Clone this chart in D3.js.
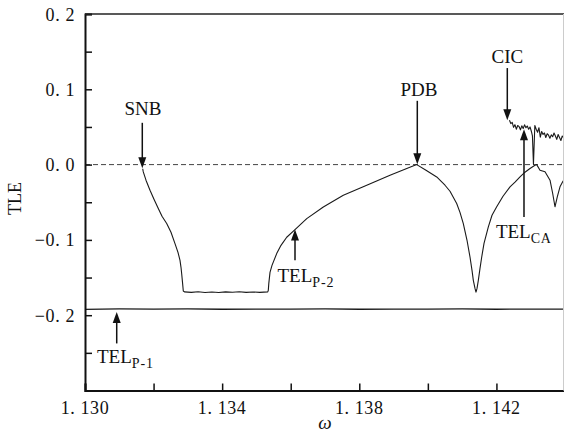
<!DOCTYPE html>
<html>
<head>
<meta charset="utf-8">
<script src="https://cdn.jsdelivr.net/npm/d3@7"></script>
<style>
  html, body { margin: 0; padding: 0; background: #fff; }
  svg { display: block; }
  text { font-family: "Liberation Serif", "Times New Roman", serif; fill: #111; }
</style>
</head>
<body>
<svg id="chart" width="564" height="443"></svg>
<script>
// ---------------- data ----------------
// Main Lyapunov-exponent branch: SNB descent
const snbOmega = [1.131683,1.131700,1.131779,1.131896,1.132012,1.132138,1.132246,1.132383,1.132508,1.132625,1.132712,1.132771,1.132800,1.132820,1.132844,1.132867];
const snbTLE   = [-0.0055,-0.0097,-0.0207,-0.0340,-0.0460,-0.0584,-0.0686,-0.0783,-0.0899,-0.1050,-0.1165,-0.1271,-0.1364,-0.1449,-0.1564,-0.1679];
// plateau
const plateauOmega = [1.1329,1.1331,1.1333,1.1335,1.1337,1.1339,1.1341,1.1343,1.1345,1.1347,1.1349,1.1351,1.13533];
const plateauTLE   = [-0.1690,-0.1697,-0.1689,-0.1698,-0.1691,-0.1699,-0.1690,-0.1696,-0.1688,-0.1697,-0.1692,-0.1697,-0.1690];
// TEL P-2 rising branch up to PDB
const p2Omega = [1.135346,1.135361,1.135396,1.135454,1.135591,1.135717,1.135883,1.136125,1.136467,1.136951,1.137534,1.138217,1.138896,1.139675];
const p2TLE   = [-0.1670,-0.1577,-0.1431,-0.1338,-0.1182,-0.1072,-0.0965,-0.0863,-0.0717,-0.0563,-0.0407,-0.0274,-0.0141,0.0000];
// after PDB
const postOmega = [1.139946,1.140258,1.140500,1.140646,1.140841,1.140937,1.141034,1.141142,1.141229,1.141288,1.141326,1.141375,1.141404,1.141434,1.141472,1.141521,1.141571,1.141638,1.141764,1.141871,1.142008,1.142192,1.142396,1.142542,1.142688,1.142833,1.142979,1.143125,1.143175,1.143271,1.143417,1.143563,1.143641,1.143708,1.143775,1.143854,1.143932,1.143970];
const postTLE   = [-0.0074,-0.0164,-0.0274,-0.0354,-0.0517,-0.0634,-0.0784,-0.1005,-0.1227,-0.1404,-0.1537,-0.1644,-0.1693,-0.1644,-0.1537,-0.1378,-0.1227,-0.1045,-0.0828,-0.0673,-0.0560,-0.0420,-0.0296,-0.0233,-0.0162,-0.0101,-0.0051,-0.0008,0.0000,-0.0074,-0.0096,-0.0207,-0.0384,-0.0560,-0.0428,-0.0295,-0.0229,-0.0202];
// chaotic attractor (CIC)
const chaosOmega = [1.14238,1.14242,1.14246,1.14250,1.14254,1.14258,1.14262,1.14266,1.14270,1.14274,1.14278,1.14282,1.14286,1.14290,1.14294,1.14298,1.14302,1.14305,1.14308,1.14312,1.14316,1.14320,1.14324,1.14328,1.14332,1.14336,1.14340,1.14344,1.14348,1.14352,1.14356,1.14360,1.14364,1.14368,1.14372,1.14376,1.14380,1.14384,1.14388,1.14392,1.14397];
const chaosTLE   = [0.0590,0.0545,0.0560,0.0495,0.0530,0.0470,0.0520,0.0505,0.0462,0.0515,0.0480,0.0528,0.0490,0.0512,0.0470,0.0500,0.0440,0.0380,0.0005,0.0520,0.0470,0.0430,0.0490,0.0365,0.0440,0.0400,0.0420,0.0360,0.0410,0.0390,0.0350,0.0395,0.0370,0.0420,0.0380,0.0335,0.0400,0.0360,0.0320,0.0380,0.0350];
// TEL P-1 (flat branch)
const p1Omega = [1.1300,1.1310,1.1320,1.1330,1.1340,1.1350,1.1360,1.1370,1.1380,1.1390,1.1400,1.1410,1.1420,1.1430,1.1440];
const p1TLE   = [-0.1922,-0.1916,-0.1920,-0.1917,-0.1921,-0.1918,-0.1920,-0.1916,-0.1921,-0.1918,-0.1920,-0.1917,-0.1921,-0.1918,-0.1920];

// axis ticks
const xTicks = [1.130,1.132,1.134,1.136,1.138,1.140,1.142,1.144];
const xTickLabels = [1.130,1.134,1.138,1.142];
const yTicks = [-0.25,-0.2,-0.15,-0.1,-0.05,0,0.05,0.1,0.15,0.2];
const yTickLabels = [-0.2,-0.1,0.0,0.1,0.2];

// annotations (data coordinates)
const annLabels = ["SNB","PDB","CIC","TEL_CA","TEL_P-2","TEL_P-1"];
const annArrowX   = [1.131671,1.139692,1.142317,1.142804,1.136125,1.130925];
const annArrowFrom= [0.0555,0.0847,0.1282,-0.0695,-0.1271,-0.2375];
const annArrowTo  = [-0.0048,0.0005,0.059,0.0471,-0.0863,-0.1959];
const annTextX    = [1.13169,1.13974,1.14232,1.141985,1.135615,1.130350];
const annTextY    = [0.0657,0.0910,0.1352,-0.0979,-0.1560,-0.2641];

// ---------------- drawing ----------------
const svg = d3.select("#chart");
const x = d3.scaleLinear().domain([1.130, 1.144]).range([85, 565]);
const y = d3.scaleLinear().domain([-0.3, 0.2]).range([390.5, 14]);

const zip = (a, b) => a.map((v, i) => [v, b[i]]);
const line = d3.line().x(d => x(d[0])).y(d => y(d[1]));

const plot = svg.append("g");

plot.append("line")
  .attr("x1", x(1.130)).attr("x2", x(1.144))
  .attr("y1", y(0)).attr("y2", y(0))
  .attr("stroke", "#444").attr("stroke-width", 1)
  .attr("stroke-dasharray", "5,3");

const curveStyle = sel => sel.attr("fill", "none").attr("stroke", "#1a1a1a").attr("stroke-width", 1.1).attr("stroke-linejoin", "round");

const mainPts = zip(snbOmega, snbTLE).concat(zip(plateauOmega, plateauTLE), zip(p2Omega, p2TLE), zip(postOmega, postTLE));
plot.append("path").datum(mainPts).attr("d", line).call(curveStyle);
plot.append("path").datum(zip(chaosOmega, chaosTLE)).attr("d", line).call(curveStyle);
plot.append("path").datum(zip(p1Omega, p1TLE)).attr("d", line).call(curveStyle).attr("stroke-width", 1.3);

// axes
const fmtX = d => d3.format(".3f")(d).replace(".", ". ");
const fmtY = d => d3.format(".1f")(d).replace(".", ". ");

const gx = svg.append("g").attr("transform", `translate(0,${y(-0.3)})`)
  .call(d3.axisBottom(x).tickValues(xTicks).tickSize(-7).tickFormat(""));
const gy = svg.append("g").attr("transform", `translate(${x(1.130)},0)`)
  .call(d3.axisLeft(y).tickValues(yTicks).tickSize(-7).tickFormat(""));
[gx, gy].forEach(g => {
  g.select(".domain").attr("stroke", "#111").attr("stroke-width", 2);
  g.selectAll(".tick line").attr("stroke", "#111").attr("stroke-width", 1.5);
});
svg.append("line").attr("x1", x(1.130)).attr("x2", 564).attr("y1", y(0.2)).attr("y2", y(0.2))
  .attr("stroke", "#222").attr("stroke-width", 1.5);
svg.append("line").attr("x1", 563.5).attr("x2", 563.5).attr("y1", y(0.2)).attr("y2", y(-0.3))
  .attr("stroke", "#ccc").attr("stroke-width", 1);

// tick labels
svg.append("g").selectAll("text").data(xTickLabels).join("text")
  .attr("x", d => x(d)).attr("y", 414)
  .attr("text-anchor", "middle").attr("font-size", 18).attr("letter-spacing", 0.6)
  .text(fmtX);
svg.append("g").selectAll("text").data(yTickLabels).join("text")
  .attr("x", x(1.130) - 10).attr("y", d => y(d) + 6.5)
  .attr("text-anchor", "end").attr("font-size", 18).attr("letter-spacing", 0.6)
  .text(fmtY);

// axis titles
svg.append("text").attr("transform", `translate(21,${y(-0.045)}) rotate(-90)`)
  .attr("text-anchor", "middle").attr("font-size", 18).text("TLE");
svg.append("text").attr("x", 325).attr("y", 428.5).attr("text-anchor", "middle")
  .attr("font-size", 19).attr("font-style", "italic").text("ω");

// annotations
const ann = svg.append("g");
annLabels.forEach((lab, i) => {
  const ax = x(annArrowX[i]);
  const y0 = y(annArrowFrom[i]), y1 = y(annArrowTo[i]);
  const dir = y1 > y0 ? 1 : -1;
  const headLen = 11, headW = 4;
  ann.append("line").attr("x1", ax).attr("x2", ax).attr("y1", y0).attr("y2", y1 - dir * headLen * 0.8)
    .attr("stroke", "#111").attr("stroke-width", 1.5);
  ann.append("path")
    .attr("d", `M${ax},${y1} L${ax - headW},${y1 - dir * headLen} L${ax + headW},${y1 - dir * headLen} Z`)
    .attr("fill", "#111");
  const parts = lab.split("_");
  const t = ann.append("text").attr("x", x(annTextX[i])).attr("y", y(annTextY[i]))
    .attr("font-size", 19).attr("text-anchor", parts.length > 1 ? "start" : "middle");
  t.append("tspan").text(parts[0]);
  if (parts.length > 1) {
    t.append("tspan").attr("dy", 5).attr("font-size", 14).attr("letter-spacing", 0.8).text(parts[1]);
  }
});
</script>
</body>
</html>
